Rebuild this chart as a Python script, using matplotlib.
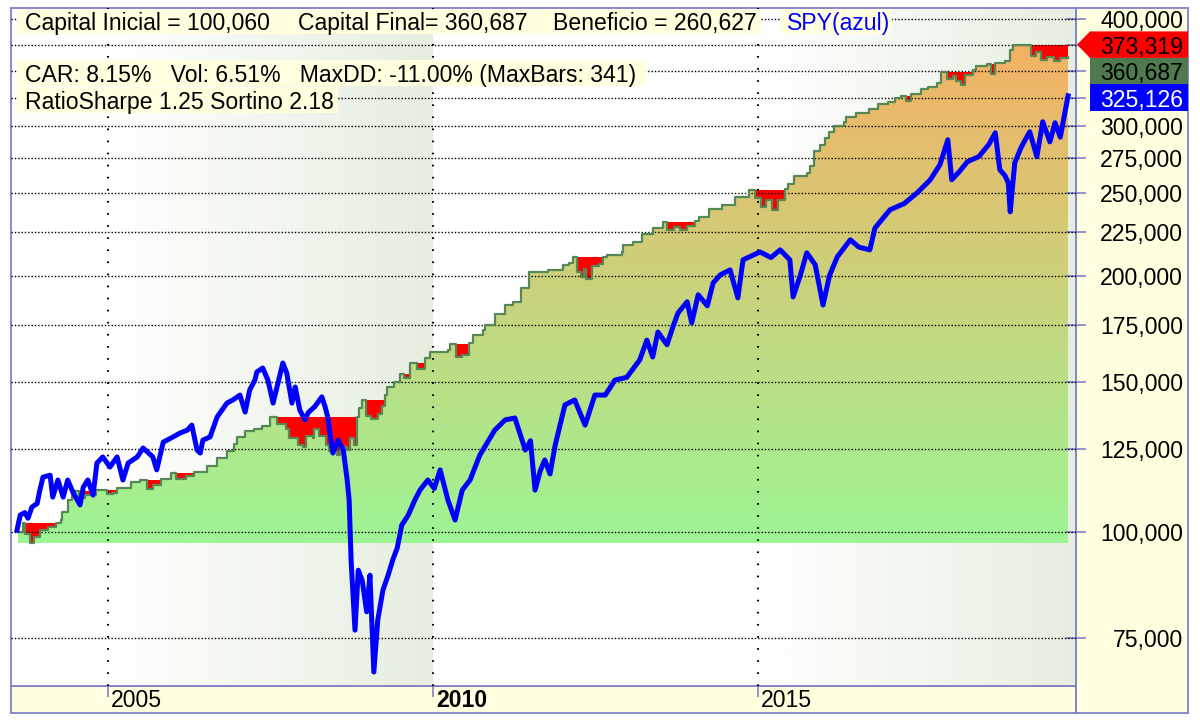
import matplotlib
import numpy as np

matplotlib.use("Agg")
import matplotlib.pyplot as plt
import matplotlib.transforms as mtransforms
from matplotlib.patches import Polygon, Rectangle
from matplotlib.ticker import NullLocator

plt.rcParams["font.family"] = ["Liberation Sans", "DejaVu Sans"]

# --- datos (años decimales, valores en miles) ---
spy_years = [2003.60, 2003.65, 2003.72, 2003.77, 2003.83, 2003.91, 2003.95, 2004.00, 2004.11, 2004.15,
             2004.23, 2004.31, 2004.38, 2004.46, 2004.57, 2004.62, 2004.69, 2004.77, 2004.83, 2004.92,
             2005.03, 2005.14, 2005.23, 2005.31, 2005.45, 2005.54, 2005.69, 2005.75, 2005.85, 2006.00,
             2006.11, 2006.22, 2006.29, 2006.37, 2006.42, 2006.46, 2006.57, 2006.68, 2006.83, 2006.92,
             2007.03, 2007.11, 2007.18, 2007.26, 2007.29, 2007.38, 2007.46, 2007.54, 2007.60, 2007.69,
             2007.75, 2007.83, 2007.88, 2007.95, 2008.03, 2008.08, 2008.18, 2008.29, 2008.34, 2008.38,
             2008.46, 2008.54, 2008.62, 2008.68, 2008.71, 2008.74, 2008.80, 2008.85, 2008.91, 2008.98,
             2009.03, 2009.09, 2009.15, 2009.23, 2009.31, 2009.38, 2009.45, 2009.52, 2009.62, 2009.72,
             2009.80, 2009.92, 2010.02, 2010.11, 2010.23, 2010.34, 2010.45, 2010.57, 2010.72, 2010.95,
             2011.11, 2011.26, 2011.42, 2011.50, 2011.57, 2011.65, 2011.72, 2011.80, 2011.88, 2012.03,
             2012.18, 2012.34, 2012.49, 2012.65, 2012.80, 2012.98, 2013.18, 2013.29, 2013.38, 2013.46,
             2013.60, 2013.69, 2013.77, 2013.91, 2013.98, 2014.08, 2014.22, 2014.31, 2014.42, 2014.57,
             2014.69, 2014.77, 2015.03, 2015.20, 2015.34, 2015.49, 2015.54, 2015.65, 2015.75, 2015.88,
             2016.00, 2016.10, 2016.22, 2016.42, 2016.55, 2016.72, 2016.80, 2017.03, 2017.25, 2017.45,
             2017.65, 2017.80, 2017.92, 2017.98, 2018.10, 2018.22, 2018.40, 2018.55, 2018.65, 2018.72,
             2018.80, 2018.85, 2018.88, 2018.95, 2019.05, 2019.18, 2019.29, 2019.38, 2019.49, 2019.57,
             2019.65, 2019.72, 2019.77]
spy_k = [100.5, 104.7, 105.4, 103.8, 107.0, 108.0, 111.8, 116.0, 116.6, 109.9,
         115.1, 109.9, 115.1, 111.4, 107.6, 112.9, 115.1, 110.5, 120.5, 122.5,
         119.2, 122.5, 115.1, 120.5, 122.5, 125.5, 122.5, 118.3, 127.5, 129.3,
         130.7, 131.7, 133.5, 124.8, 123.8, 128.2, 129.3, 136.5, 141.7, 142.9,
         144.8, 138.3, 146.8, 150.8, 154.1, 155.8, 150.8, 141.7, 148.0, 157.9,
         153.7, 141.7, 148.0, 139.1, 135.4, 138.1, 140.3, 144.1, 140.3, 136.5,
         123.8, 128.2, 124.8, 115.1, 109.0, 92.7, 76.7, 90.2, 87.8, 80.6,
         89.0, 68.5, 78.8, 85.5, 89.0, 92.7, 95.8, 101.9, 104.7, 109.0,
         112.0, 115.1, 112.5, 118.3, 109.0, 103.3, 112.0, 115.1, 123.1, 131.7,
         135.4, 136.1, 124.8, 128.0, 112.0, 118.0, 121.5, 117.0, 126.5, 141.0,
         142.9, 133.5, 144.8, 144.8, 150.8, 151.9, 159.2, 168.0, 160.5, 171.7,
         165.9, 174.1, 180.8, 186.3, 176.0, 189.9, 184.3, 196.1, 200.4, 203.1,
         188.3, 208.7, 213.2, 210.0, 214.4, 208.7, 188.8, 200.0, 212.7, 205.9,
         184.7, 200.0, 210.4, 220.3, 216.0, 214.4, 227.5, 238.9, 243.0, 250.2,
         259.1, 270.0, 288.7, 259.1, 265.0, 272.0, 276.0, 285.0, 294.2, 266.2,
         262.0, 257.0, 237.6, 271.3, 283.0, 295.0, 275.8, 303.1, 287.1, 302.3,
         290.7, 310.5, 325.1]

eq_years = [2003.615, 2003.69, 2003.72, 2003.80, 2003.86, 2003.95, 2004.08, 2004.20, 2004.27, 2004.30,
            2004.38, 2004.45, 2004.55, 2004.65, 2004.82, 2004.98, 2005.08, 2005.14, 2005.35, 2005.50,
            2005.60, 2005.70, 2005.82, 2005.97, 2006.05, 2006.20, 2006.32, 2006.52, 2006.68, 2006.83,
            2006.94, 2006.98, 2007.11, 2007.25, 2007.37, 2007.49, 2007.60, 2007.74, 2007.78, 2007.92,
            2008.00, 2008.05, 2008.15, 2008.17, 2008.25, 2008.35, 2008.40, 2008.52, 2008.57, 2008.68,
            2008.72, 2008.78, 2008.83, 2008.86, 2008.91, 2008.97, 2009.05, 2009.15, 2009.22, 2009.26,
            2009.29, 2009.40, 2009.49, 2009.55, 2009.65, 2009.75, 2009.88, 2009.95, 2010.23, 2010.26,
            2010.35, 2010.45, 2010.55, 2010.62, 2010.77, 2010.80, 2010.95, 2011.11, 2011.23, 2011.35,
            2011.48, 2011.77, 2012.00, 2012.09, 2012.15, 2012.22, 2012.28, 2012.32, 2012.36, 2012.45,
            2012.55, 2012.62, 2012.68, 2012.91, 2012.93, 2013.08, 2013.22, 2013.38, 2013.54, 2013.60,
            2013.70, 2013.80, 2013.90, 2014.03, 2014.09, 2014.25, 2014.45, 2014.65, 2014.86, 2014.95,
            2015.05, 2015.12, 2015.22, 2015.30, 2015.41, 2015.46, 2015.55, 2015.75, 2015.80, 2015.86,
            2015.95, 2016.03, 2016.09, 2016.17, 2016.32, 2016.35, 2016.51, 2016.70, 2016.85, 2017.00,
            2017.10, 2017.20, 2017.27, 2017.35, 2017.50, 2017.62, 2017.75, 2017.82, 2017.90, 2018.00,
            2018.05, 2018.12, 2018.18, 2018.30, 2018.35, 2018.52, 2018.58, 2018.65, 2018.80, 2018.88,
            2018.92, 2019.20, 2019.28, 2019.35, 2019.45, 2019.55, 2019.65, 2019.77]
eq_k = [100.06, 102.5, 99.5, 97.1, 98.7, 100.5, 101.5, 102.6, 103.3, 105.7,
        109.0, 111.8, 109.5, 110.5, 112.0, 110.8, 111.0, 112.5, 114.5, 115.1,
        112.3, 113.5, 115.3, 117.3, 115.5, 116.5, 117.6, 119.5, 122.1, 124.4,
        126.8, 129.4, 131.4, 132.2, 133.3, 136.5, 134.0, 132.2, 128.9, 126.5,
        125.8, 129.6, 128.9, 132.0, 129.6, 126.5, 124.4, 123.1, 125.8, 124.8,
        128.9, 126.5, 136.6, 139.8, 142.9, 137.0, 135.8, 137.5, 140.5, 145.0,
        148.0, 150.0, 153.3, 151.5, 157.8, 155.5, 159.9, 162.6, 163.6, 166.3,
        160.5, 161.5, 166.8, 170.4, 172.7, 175.0, 180.3, 184.8, 186.3, 193.4,
        202.0, 203.1, 205.9, 207.0, 210.4, 202.0, 199.0, 203.5, 198.1, 205.0,
        206.5, 210.5, 211.5, 213.2, 217.2, 218.9, 223.8, 227.5, 231.2, 226.5,
        228.0, 226.0, 228.5, 231.5, 234.4, 239.6, 242.0, 247.0, 252.2, 246.5,
        241.0, 245.5, 239.0, 245.0, 252.5, 256.0, 262.0, 264.0, 269.0, 280.0,
        285.0, 290.0, 295.0, 300.0, 303.0, 307.0, 310.0, 314.0, 318.0, 320.0,
        323.0, 325.0, 321.0, 327.0, 331.0, 333.0, 337.0, 347.0, 340.0, 343.0,
        338.0, 335.0, 344.0, 349.0, 352.0, 354.0, 345.0, 355.0, 357.0, 368.0,
        373.319, 362.0, 366.0, 358.0, 361.0, 357.0, 360.0, 360.687]

price_levels = [75000, 100000, 125000, 150000, 175000, 200000, 225000, 250000, 275000, 300000, 400000]
last_values = [373319, 360687, 325126]
last_colors = ["#FF0000", "#4F7A4F", "#0000FF"]
last_text_colors = ["black", "black", "white"]
year_ticks = [2005, 2010, 2015]
header_1 = ["Capital Inicial = 100,060", "Capital Final= 360,687", "Beneficio = 260,627"]
header_2 = "CAR: 8.15%   Vol: 6.51%   MaxDD: -11.00% (MaxBars: 341)"
header_3 = "RatioSharpe 1.25 Sortino 2.18"
spy_label = "SPY(azul)"

W, H = 1200, 721
FRAME = "#8080C8"
PANEL = "#FFFFE0"
FS = 16.6


def px_rect(x0, y0, x1, y1):
    """caja en pixeles (origen arriba-izquierda) -> fraccion de figura"""
    return [x0 / W, 1 - y1 / H, (x1 - x0) / W, (y1 - y0) / H]


fig = plt.figure(figsize=(W / 100, H / 100), dpi=100)
ax = fig.add_axes(px_rect(11, 8, 1076, 686))
ax_b = fig.add_axes(px_rect(11, 686, 1076, 713))
ax_r = fig.add_axes(px_rect(1076, 8, 1188, 713))
ax.set_zorder(2)

ax.set_yscale("log")
ax.set_xlim(2003.508, 2019.892)
ax.set_ylim(65960, 412200)
ax.set_autoscale_on(False)

# bandas de fondo (degradado blanco -> verde palido)
trans_band = mtransforms.blended_transform_factory(ax.transData, ax.transAxes)
t = np.linspace(0, 1, 256)[:, None]
c0 = np.array([1.0, 1.0, 1.0])
c1 = np.array([229, 238, 223]) / 255
band = (c0 * (1 - t) + c1 * t)[None, :, :]
for start in (2005, 2015):
    ax.imshow(band, extent=(start, start + 5, 0, 1), transform=trans_band,
              aspect="auto", interpolation="bilinear", zorder=0)

eq_t = np.array(eq_years)
eq_v = np.array(eq_k) * 1000
base = 97070

# relleno con degradado vertical verde -> naranja bajo la curva de capital
poly = ax.fill_between(eq_t, base, eq_v, step="post", facecolor="none", edgecolor="none", zorder=1)
to_axes = ax.transAxes.inverted()
yb = to_axes.transform(ax.transData.transform((2010, base)))[1]
yt = to_axes.transform(ax.transData.transform((2010, eq_v.max())))[1]
g = np.linspace(0, 1, 256)[:, None]
bottom_c = np.array([157, 245, 149]) / 255
top_c = np.array([245, 177, 100]) / 255
grad = (bottom_c * (1 - g) + top_c * g)[:, None, :]
im = ax.imshow(grad, extent=(0, 1, yb, yt), origin="lower", transform=ax.transAxes,
               aspect="auto", interpolation="bilinear", zorder=1)
im.set_clip_path(poly.get_paths()[0], poly.get_transform())

# drawdowns en rojo
run_max = np.maximum.accumulate(eq_v)
ax.fill_between(eq_t, eq_v, run_max, step="post", color="#FF0000", lw=0, zorder=2)

# posiciones de las etiquetas de ultimo valor (sin solaparse)
box_h = 26.5
centers = []
prev = -1e9
for v in last_values:
    py = H - ax.transData.transform((2010, v))[1]
    py = max(py, prev + box_h)
    centers.append(py)
    prev = py
box_levels = [ax.transData.inverted().transform((0, H - c))[1] for c in centers]

# rejilla
for v in price_levels + box_levels:
    ax.axhline(v, color="black", lw=1.0, ls=(0, (1, 1.4)), zorder=3)
for yr in year_ticks:
    ax.axvline(yr, color="black", lw=1.5, ls=(0, (0.8, 5)), zorder=3)

ax.step(eq_t, eq_v, where="post", color="#558855", lw=1.6, zorder=4)
ax.plot(spy_years, np.array(spy_k) * 1000, color="#0000FF", lw=3.6, zorder=5)

ax.set_xticks([])
ax.yaxis.tick_right()
ax.set_yticks(price_levels + box_levels)
ax.yaxis.set_minor_locator(NullLocator())
ax.set_yticklabels([])
ax.tick_params(axis="y", which="both", direction="inout", length=15, width=1.2, color=FRAME)
for s in ax.spines.values():
    s.set_color(FRAME)
    s.set_linewidth(1.3)

# franja inferior con los años
ax_b.set_facecolor(PANEL)
ax_b.set_xlim(ax.get_xlim())
ax_b.set_ylim(0, 1)
ax_b.xaxis.tick_top()
ax_b.set_xticks(year_ticks)
ax_b.set_xticklabels([])
ax_b.set_yticks([])
ax_b.tick_params(axis="x", direction="in", length=8, width=1.2, color=FRAME)
for yr in year_ticks:
    ax_b.text(yr + 3 / 65, 0.45, str(yr), ha="left", va="center", fontsize=FS,
              fontweight="bold" if yr == 2010 else "normal")
for s in ax_b.spines.values():
    s.set_color(FRAME)
    s.set_linewidth(1.3)

# panel derecho
ax_r.set_facecolor(PANEL)
ax_r.set_xticks([])
ax_r.set_yticks([])
for s in ax_r.spines.values():
    s.set_color(FRAME)
    s.set_linewidth(1.3)

lab_trans = mtransforms.blended_transform_factory(fig.transFigure, ax.transData)
for v in price_levels:
    fig.text(1183 / W, v, f"{v:,}", transform=lab_trans, ha="right", va="center_baseline",
             fontsize=FS, zorder=6)

ident = mtransforms.IdentityTransform()
for i, (v, c, col, tcol) in enumerate(zip(last_values, centers, last_colors, last_text_colors)):
    yc = H - c
    top, bot = yc + box_h / 2, yc - box_h / 2
    if i == 0:
        pts = [(1077, yc), (1090, top), (1188, top), (1188, bot), (1090, bot)]
    else:
        pts = [(1090, top), (1188, top), (1188, bot), (1090, bot)]
    fig.add_artist(Polygon(pts, closed=True, facecolor=col, edgecolor="none",
                           transform=ident, zorder=5))
    fig.text(1183 / W, 1 - c / H, f"{v:,}", ha="right", va="center_baseline",
             fontsize=FS, color=tcol, zorder=6)

# cajas de texto superiores
for x0, y0, x1, y1 in [(17, 9, 761, 34), (781, 9, 892, 34), (17, 60, 646, 86), (17, 87, 338, 113)]:
    fig.add_artist(Rectangle((x0 / W, 1 - y1 / H), (x1 - x0) / W, (y1 - y0) / H,
                             transform=fig.transFigure, facecolor=PANEL, edgecolor="none", zorder=5))
for x, s in zip([25, 298, 553], header_1):
    fig.text(x / W, 1 - 21 / H, s, ha="left", va="center_baseline", fontsize=FS, zorder=6)
fig.text(787 / W, 1 - 21 / H, spy_label, ha="left", va="center_baseline", fontsize=FS,
         color="#0000FF", zorder=6)
fig.text(25 / W, 1 - 73 / H, header_2, ha="left", va="center_baseline", fontsize=FS, zorder=6)
fig.text(25 / W, 1 - 100 / H, header_3, ha="left", va="center_baseline", fontsize=FS, zorder=6)

fig.savefig("out.png", dpi=100)
